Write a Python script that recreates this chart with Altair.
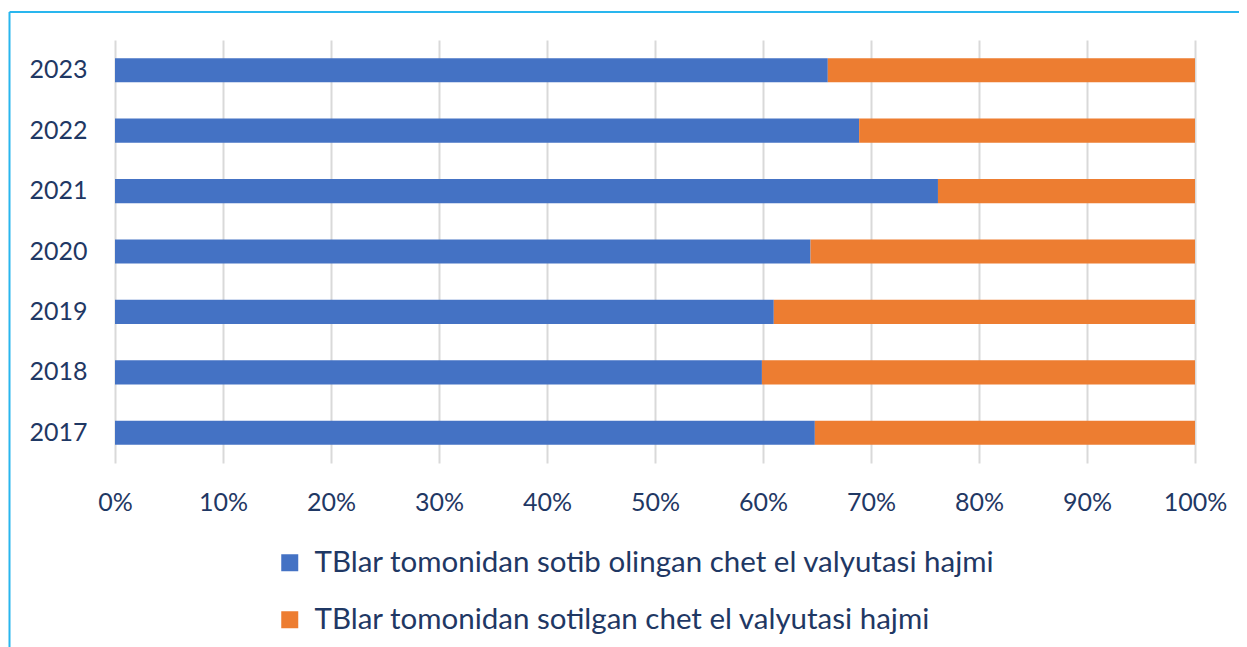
import altair as alt
import pandas as pd

years = ["2017", "2018", "2019", "2020", "2021", "2022", "2023"]
bought = [64.8, 59.9, 61.0, 64.4, 76.2, 68.9, 66.0]
sold = [35.2, 40.1, 39.0, 35.6, 23.8, 31.1, 34.0]
series = [
    "TBlar tomonidan sotib olingan chet el valyutasi hajmi",
    "TBlar tomonidan sotilgan chet el valyutasi hajmi",
]
colors = ["#4472C4", "#ED7D31"]
ticks = [0, 10, 20, 30, 40, 50, 60, 70, 80, 90, 100]

rows = []
for y, b, s in zip(years, bought, sold):
    rows.append({"year": y, "series": series[0], "value": b, "ord": 0})
    rows.append({"year": y, "series": series[1], "value": s, "ord": 1})
df = pd.DataFrame(rows)

FONT = "Lato"
NAVY = "#1F3864"

bars = alt.Chart(df).mark_bar().encode(
    x=alt.X(
        "value:Q",
        stack="zero",
        scale=alt.Scale(domain=[0, 100], nice=False),
        axis=alt.Axis(
            values=ticks,
            labelExpr="datum.value + '%'",
            title=None,
            domain=False,
            ticks=False,
            grid=True,
            gridColor="#D9D9D9",
            gridWidth=2,
            labelFont=FONT,
            labelFontSize=25,
            labelColor=NAVY,
            labelPadding=27,
            labelFlush=False,
            labelOverlap=False,
        ),
    ),
    y=alt.Y(
        "year:N",
        sort=list(reversed(years)),
        scale=alt.Scale(paddingInner=0.6, paddingOuter=0.3),
        axis=alt.Axis(
            title=None,
            domain=False,
            ticks=False,
            grid=False,
            labelFont=FONT,
            labelFontSize=25,
            labelColor=NAVY,
            labelPadding=28,
        ),
    ),
    color=alt.Color(
        "series:N",
        scale=alt.Scale(domain=series, range=colors),
        sort=series,
        legend=alt.Legend(
            title=None,
            orient="none",
            legendX=160,
            legendY=508,
            direction="vertical",
            symbolType="square",
            symbolSize=289,
            symbolStrokeWidth=0,
            labelFont=FONT,
            labelFontSize=29.5,
            labelColor=NAVY,
            labelOffset=10,
            rowPadding=26,
            labelLimit=1000,
        ),
    ),
    order=alt.Order("ord:Q"),
)

one = pd.DataFrame({"a": [0]})
frame_left = alt.Chart(one).mark_rule(color="#29B6EE", strokeWidth=2).encode(
    x=alt.value(-105.5), y=alt.value(-28), y2=alt.value(800)
)
frame_top = alt.Chart(one).mark_rule(color="#29B6EE", strokeWidth=2).encode(
    x=alt.value(-105.5), x2=alt.value(1200), y=alt.value(-28)
)

chart = alt.layer(bars, frame_left, frame_top).properties(
    width=1080,
    height=423,
    padding={"left": 107, "top": 32, "right": 44, "bottom": 185},
    autosize=alt.AutoSizeParams(type="none"),
).configure_view(stroke=None)

chart.save("out.html", embed_options={"renderer": "svg", "actions": False})
